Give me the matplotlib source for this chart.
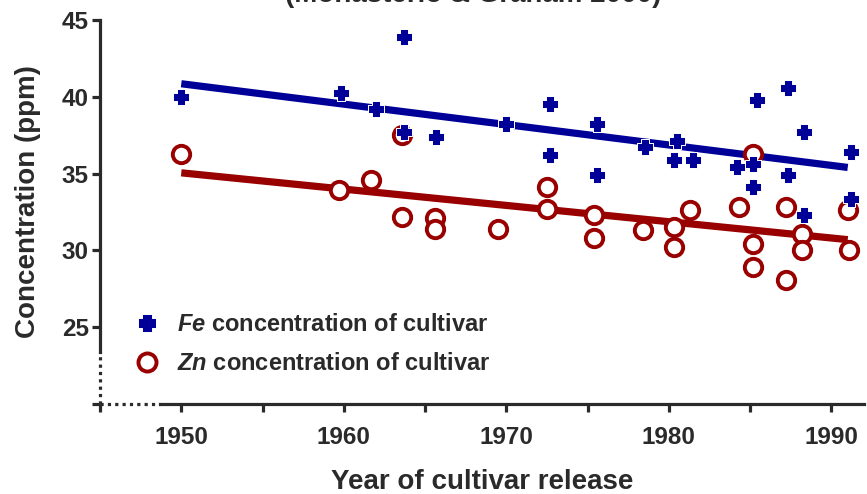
import matplotlib.pyplot as plt
from matplotlib.lines import Line2D
from matplotlib.path import Path

plt.rcParams['font.family'] = ['Liberation Sans', 'DejaVu Sans']
plt.rcParams['mathtext.fontset'] = 'custom'
plt.rcParams['mathtext.it'] = 'Liberation Sans:italic:bold'
plt.rcParams['mathtext.rm'] = 'Liberation Sans:bold'

# Fe concentration of each cultivar (year, ppm)
fe_year = [1950, 1959.8, 1962, 1963.7, 1963.7, 1965.7, 1970, 1972.7, 1972.7,
           1975.6, 1975.6, 1978.5, 1980.5, 1980.3, 1981.5, 1984.2, 1985.2,
           1985.2, 1985.4, 1987.3, 1987.3, 1988.3, 1988.3, 1991.2, 1991.2]
fe_ppm = [40.0, 40.25, 39.2, 43.9, 37.7, 37.4, 38.2, 39.5, 36.2,
          38.2, 34.9, 36.7, 37.15, 35.9, 35.9, 35.4, 35.65,
          34.1, 39.8, 40.55, 34.9, 37.7, 32.3, 36.4, 33.35]

# Zn concentration of each cultivar (year, ppm)
zn_year = [1950, 1959.7, 1961.7, 1963.6, 1963.6, 1965.6, 1965.6, 1969.5,
           1972.5, 1972.5, 1975.4, 1975.4, 1978.4, 1980.3, 1980.3, 1981.3,
           1984.3, 1985.2, 1985.2, 1985.2, 1987.2, 1987.2, 1988.2, 1988.2,
           1991.0, 1991.1]
zn_ppm = [36.3, 33.9, 34.6, 37.5, 32.2, 32.1, 31.4, 31.4,
          34.1, 32.7, 32.3, 30.8, 31.3, 31.5, 30.2, 32.6,
          32.8, 36.3, 30.4, 28.9, 32.8, 28.1, 31.1, 30.0,
          32.6, 30.0]

# regression lines (end points)
fit_year = [1950, 1991]
fe_fit = [40.85, 35.4]
zn_fit = [35.05, 30.7]

blue = '#000099'
red = '#990000'
dark = '#2a2a2a'

# chunky plus marker
a, t = 1.0, 0.55
cross = Path([(-t, a), (t, a), (t, t), (a, t), (a, -t), (t, -t), (t, -a),
              (-t, -a), (-t, -t), (-a, -t), (-a, t), (-t, t), (-t, a)],
             closed=True)

fig = plt.figure(figsize=(8.67, 4.94), dpi=100)
ax = fig.add_axes([100 / 867, 1 - 404 / 494, 764 / 867, 384 / 494])

ax.plot(fit_year, fe_fit, color=blue, lw=5.2, solid_capstyle='butt', zorder=2)
ax.plot(fit_year, zn_fit, color=red, lw=5.2, solid_capstyle='butt', zorder=2)
ax.plot(zn_year, zn_ppm, 'o', ms=12.5, mfc='white', mec=red, mew=2.8,
        zorder=3, clip_on=False)
ax.plot(fe_year, fe_ppm, ls='none', marker=cross, ms=11.5, mfc=blue,
        mec='white', mew=0.7, zorder=4, clip_on=False)

ax.set_xlim(1945, 1992)
ax.set_ylim(20, 45)

ax.spines['top'].set_visible(False)
ax.spines['right'].set_visible(False)
for s in ['left', 'bottom']:
    ax.spines[s].set_linewidth(2.3)
    ax.spines[s].set_color(dark)
ax.spines['left'].set_bounds(23.4, 45)
ax.spines['bottom'].set_bounds(1948.7, 1992)
ax.plot([1945, 1945], [20, 23.4], ls=(0, (1, 1.3)), color=dark, lw=2.3,
        clip_on=False, dash_capstyle='butt')
ax.plot([1945, 1948.7], [20, 20], ls=(0, (1, 1.3)), color=dark, lw=2.3,
        clip_on=False, dash_capstyle='butt')

ax.set_xticks(range(1945, 1991, 5))
ax.set_xticklabels(['', '1950', '', '1960', '', '1970', '', '1980', '', '1990'])
ax.set_yticks([20, 25, 30, 35, 40, 45])
ax.set_yticklabels(['', '25', '30', '35', '40', '45'])
ax.tick_params(width=2.3, length=6, color=dark, labelcolor=dark,
               labelsize=17.5)
ax.tick_params(axis='x', pad=10)
ax.tick_params(axis='y', pad=2)
for lab in ax.get_xticklabels() + ax.get_yticklabels():
    lab.set_fontweight('bold')

ax.set_xlabel('Year of cultivar release', fontsize=20, fontweight='bold',
              color=dark, labelpad=14)
ax.set_ylabel('Concentration (ppm)', fontsize=20, fontweight='bold',
              color=dark)
ax.yaxis.set_label_coords(-0.077, 0.526)

fig.text(473 / 867, 1 - 1.5 / 494, '(Monasterio & Graham 2000)', ha='center',
         va='baseline', fontsize=20, fontweight='bold', color=dark)

handles = [
    Line2D([], [], ls='none', marker=cross, ms=12.5, mfc=blue, mec='white',
           mew=0.7),
    Line2D([], [], ls='none', marker='o', ms=13, mfc='white', mec=red, mew=2.8),
]
labels = [r'$\it{Fe}$ concentration of cultivar',
          r'$\it{Zn}$ concentration of cultivar']
leg = ax.legend(handles, labels, loc='upper left', frameon=False,
                bbox_to_anchor=(0.03, 0.262), fontsize=17, handletextpad=0.7,
                labelspacing=0.68, handlelength=1.2, borderaxespad=0)
for t in leg.get_texts():
    t.set_fontweight('bold')
    t.set_color(dark)

fig.savefig('out.png', dpi=100)
